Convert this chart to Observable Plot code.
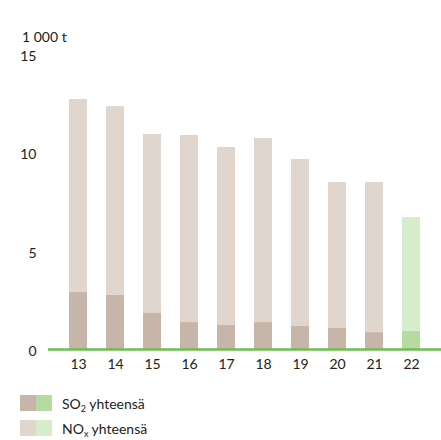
<!DOCTYPE html>
<html><head><meta charset="utf-8">
<script src="https://cdn.jsdelivr.net/npm/d3@7"></script>
<script src="https://cdn.jsdelivr.net/npm/@observablehq/plot@0.6"></script>
<style>
body{margin:0;background:#fff;font-family:Lato, "Open Sans", sans-serif;color:#222;}
#unit{position:absolute;left:22px;top:29px;font-size:14px;line-height:16px;z-index:1;}
#chart{position:absolute;left:0;top:44px;}
#legend{position:absolute;left:20px;top:395px;font-size:14px;}
.row{display:flex;align-items:center;height:16px;margin-bottom:9px;}
.sw{width:16px;height:16px;}
.lbl{margin-left:10px;white-space:nowrap;}
sub{font-size:9px;vertical-align:-3px;line-height:0;}
</style></head><body>
<div id="unit">1 000 t</div>
<div id="chart"></div>
<div id="legend"></div>
<script>
const years = ["13","14","15","16","17","18","19","20","21","22"];
const totals = [12.71,12.35,10.93,10.88,10.27,10.73,9.66,8.49,8.49,6.71];
const so2 = [2.90,2.75,1.83,1.37,1.22,1.37,1.17,1.07,0.86,0.92];
const nox = totals.map((t,i)=>+(t - so2[i]).toFixed(2));
const yTicks = [0,5,10,15];
const legendLabels = ["SO<sub>2</sub> yhteensä","NO<sub>x</sub> yhteensä"];

const brownSO2 = "#c7b5a9", brownNOx = "#e0d6cd";
const greenSO2 = "#b5dba0", greenNOx = "#d6eccb";
const highlight = "22";

const rows = years.map((y,i)=>({year:y, so2:so2[i], nox:nox[i]}));

const chart = Plot.plot({
  width: 441,
  height: 334,
  marginLeft: 48,
  marginRight: 0,
  marginTop: 10,
  marginBottom: 29,
  style: {fontFamily: "Lato, 'Open Sans', sans-serif", fontSize: "14px", color: "#222", background: "transparent"},
  x: {type: "band", domain: years, paddingInner: 0.52, paddingOuter: 0.53},
  y: {domain: [0,15]},
  marks: [
    Plot.barY(rows, {x: "year", y1: 0, y2: "so2", fill: d => d.year === highlight ? greenSO2 : brownSO2}),
    Plot.barY(rows, {x: "year", y1: "so2", y2: d => d.so2 + d.nox, fill: d => d.year === highlight ? greenNOx : brownNOx}),
    Plot.ruleY([0], {stroke: "#6cbf4f", strokeWidth: 2.5}),
    Plot.axisY({ticks: yTicks, tickSize: 0, tickPadding: 12, dy: 2, label: null, fill: "#222"}),
    Plot.axisX({tickSize: 0, tickPadding: 10, label: null, fill: "#222"})
  ]
});
document.getElementById("chart").appendChild(chart);

const legend = document.getElementById("legend");
const legendColors = [[brownSO2, greenSO2],[brownNOx, greenNOx]];
legendLabels.forEach((lab,i)=>{
  const r = document.createElement("div"); r.className = "row";
  r.innerHTML = `<div class="sw" style="background:${legendColors[i][0]}"></div><div class="sw" style="background:${legendColors[i][1]}"></div><div class="lbl">${lab}</div>`;
  legend.appendChild(r);
});
</script>
</body></html>
